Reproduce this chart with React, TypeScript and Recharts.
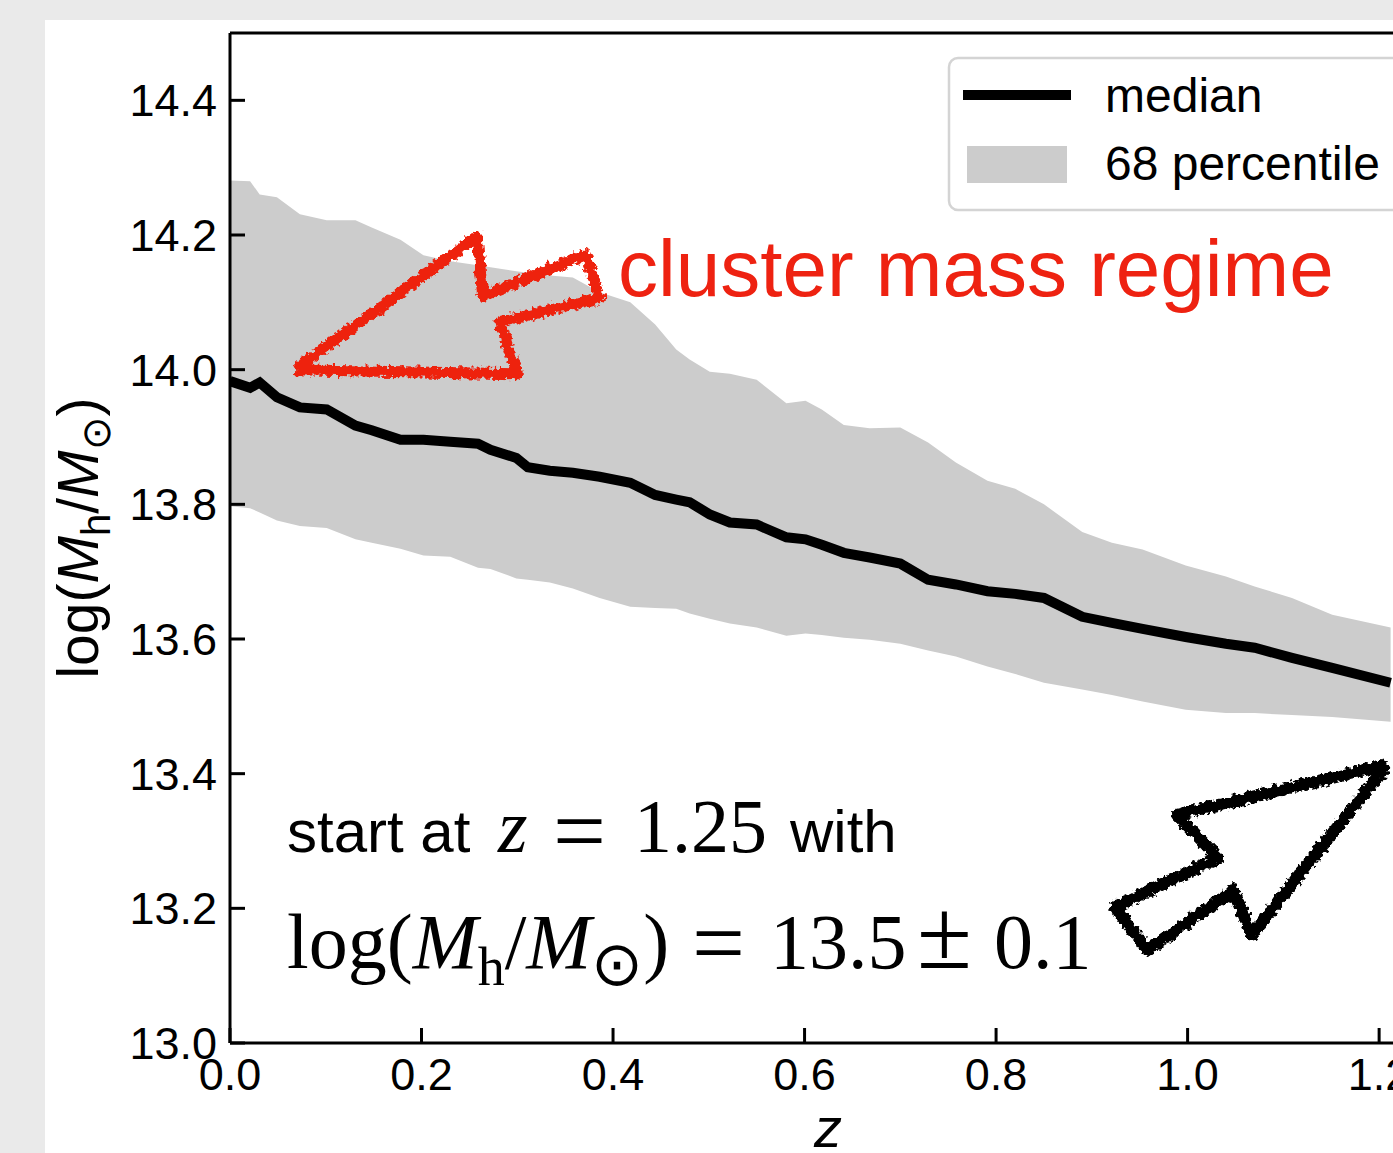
import React from 'react';
import { Area, ComposedChart, Line, XAxis, YAxis } from 'recharts';

// redshift grid and halo mass percentiles
const Z = [
  0, 0.021, 0.031, 0.049, 0.073, 0.101, 0.131, 0.148, 0.178, 0.202, 0.23, 0.259, 0.272, 0.299, 0.311,
  0.334, 0.358, 0.386, 0.418, 0.444, 0.466, 0.48, 0.501, 0.522, 0.55, 0.581, 0.601, 0.618, 0.641, 0.668,
  0.7, 0.729, 0.758, 0.791, 0.82, 0.85, 0.89, 0.921, 0.953, 0.998, 1.04, 1.07, 1.109, 1.151, 1.212,
];
const MEDIAN = [
  13.983, 13.973, 13.981, 13.959, 13.944, 13.941, 13.917, 13.91, 13.896, 13.896, 13.893, 13.89, 13.881,
  13.869, 13.855, 13.85, 13.847, 13.841, 13.832, 13.814, 13.807, 13.803, 13.785, 13.773, 13.77, 13.751,
  13.748, 13.74, 13.728, 13.721, 13.712, 13.688, 13.681, 13.671, 13.667, 13.661, 13.633, 13.624, 13.615,
  13.603, 13.593, 13.587, 13.572, 13.557, 13.535,
];
const P84 = [
  14.281, 14.28, 14.26, 14.256, 14.231, 14.222, 14.222, 14.211, 14.193, 14.17, 14.161, 14.155, 14.152,
  14.146, 14.144, 14.14, 14.137, 14.115, 14.1, 14.067, 14.03, 14.015, 13.997, 13.994, 13.985, 13.95,
  13.954, 13.941, 13.918, 13.913, 13.914, 13.892, 13.862, 13.835, 13.823, 13.8, 13.759, 13.743, 13.733,
  13.709, 13.693, 13.678, 13.661, 13.636, 13.617,
];
const P16 = [
  13.797, 13.794, 13.788, 13.776, 13.768, 13.765, 13.748, 13.743, 13.734, 13.724, 13.722, 13.706, 13.704,
  13.69, 13.688, 13.684, 13.675, 13.661, 13.648, 13.646, 13.645, 13.638, 13.63, 13.623, 13.617, 13.605,
  13.608, 13.606, 13.602, 13.599, 13.593, 13.583, 13.574, 13.559, 13.548, 13.535, 13.525, 13.517, 13.507,
  13.495, 13.49, 13.49, 13.487, 13.484, 13.477,
];

const X_TICKS = [0, 0.2, 0.4, 0.6, 0.8, 1.0, 1.2];
const Y_TICKS = [13.0, 13.2, 13.4, 13.6, 13.8, 14.0, 14.2, 14.4];

// hand drawn arrows, outline vertices in data coords (z, log M)
const RED_ARROW = [
  { z: 0.068, m: 14.0 },
  { z: 0.258, m: 14.198 },
  { z: 0.264, m: 14.109 },
  { z: 0.371, m: 14.171 },
  { z: 0.386, m: 14.107 },
  { z: 0.282, m: 14.07 },
  { z: 0.3, m: 13.994 },
  { z: 0.068, m: 14.0 },
];
const BLACK_ARROW = [
  { z: 1.208, m: 13.413 },
  { z: 0.989, m: 13.339 },
  { z: 1.032, m: 13.275 },
  { z: 0.924, m: 13.202 },
  { z: 0.958, m: 13.138 },
  { z: 1.048, m: 13.227 },
  { z: 1.067, m: 13.161 },
  { z: 1.208, m: 13.413 },
];

const rows = Z.map((z, i) => ({ z, median: MEDIAN[i], band: [P16[i], P84[i]] }));

const SANS = '"Liberation Sans", Arial, Helvetica, sans-serif';
const SERIF = '"Liberation Serif", "Times New Roman", serif';
const RED = '#ee2211';

const axisTick = { fill: '#000', fontSize: 45, fontFamily: SANS };
const spine = { stroke: '#000', strokeWidth: 3 };

export default function App() {
  return (
    <div
      style={{
        position: 'fixed',
        left: 0,
        top: 0,
        width: 1393,
        height: 1153,
        overflow: 'hidden',
        background: '#eaeaea',
      }}
    >
      <div style={{ position: 'absolute', left: 45, top: 20, right: 0, bottom: 0, background: '#fff' }} />
      <svg width={0} height={0} style={{ position: 'absolute' }}>
        <defs>
          <filter id="rough" x="-10%" y="-10%" width="120%" height="120%">
            <feTurbulence type="fractalNoise" baseFrequency="0.22" numOctaves={2} seed={4} result="noise" />
            <feDisplacementMap in="SourceGraphic" in2="noise" scale={9} xChannelSelector="R" yChannelSelector="G" />
          </filter>
        </defs>
      </svg>
      <div style={{ position: 'absolute', left: 0, top: 0 }}>
        <ComposedChart
          width={1450}
          height={1153}
          data={rows}
          margin={{ top: 32, right: 23, bottom: 109, left: 229 }}
        >
          <XAxis
            dataKey="z"
            type="number"
            domain={[0, 1.25]}
            ticks={X_TICKS}
            interval={0}
            allowDataOverflow
            height={1}
            tickFormatter={(v: number) => v.toFixed(1)}
            tick={axisTick}
            tickSize={-15}
            tickMargin={30}
            axisLine={spine}
            tickLine={spine}
          />
          <XAxis
            xAxisId="top"
            orientation="top"
            dataKey="z"
            type="number"
            domain={[0, 1.25]}
            ticks={X_TICKS}
            interval={0}
            allowDataOverflow
            height={1}
            tick={false}
            tickSize={-15}
            axisLine={spine}
            tickLine={spine}
          />
          <YAxis
            type="number"
            domain={[13.0, 14.5]}
            ticks={Y_TICKS}
            interval={0}
            allowDataOverflow
            width={1}
            tickFormatter={(v: number) => v.toFixed(1)}
            tick={axisTick}
            tickSize={-15}
            tickMargin={28}
            axisLine={spine}
            tickLine={spine}
          />
          <Area
            dataKey="band"
            type="linear"
            fill="#cccccc"
            fillOpacity={1}
            stroke="none"
            isAnimationActive={false}
          />
          <Line
            data={RED_ARROW}
            dataKey="m"
            type="linear"
            stroke={RED}
            strokeWidth={11}
            strokeLinejoin="round"
            dot={false}
            activeDot={false}
            filter="url(#rough)"
            isAnimationActive={false}
          />
          <Line
            data={BLACK_ARROW}
            dataKey="m"
            type="linear"
            stroke="#000"
            strokeWidth={12}
            strokeLinejoin="round"
            dot={false}
            activeDot={false}
            filter="url(#rough)"
            isAnimationActive={false}
          />
          <Line
            dataKey="median"
            type="linear"
            stroke="#000"
            strokeWidth={10}
            dot={false}
            activeDot={false}
            isAnimationActive={false}
          />
        </ComposedChart>
      </div>
      <svg
        width={1393}
        height={1153}
        style={{ position: 'absolute', left: 0, top: 0, pointerEvents: 'none' }}
      >
        {/* axis labels */}
        <text transform="rotate(-90)" x={-538} y={98} textAnchor="middle" fontFamily={SANS} fontSize={57}>
          log(<tspan fontStyle="italic">M</tspan>
          <tspan fontSize={40} dy={12}>h</tspan>
          <tspan dy={-12}>/</tspan>
          <tspan fontStyle="italic">M</tspan>
          <tspan fontSize={40} dy={12}>⊙</tspan>
          <tspan dy={-12}>)</tspan>
        </text>
        <text x={828} y={1147} textAnchor="middle" fontFamily={SANS} fontSize={56} fontStyle="italic">
          z
        </text>

        {/* legend */}
        <rect x={949} y={58} width={480} height={152} rx={9} fill="#fff" fillOpacity={0.8} stroke="#d4d4d4" strokeWidth={2.5} />
        <line x1={963} x2={1071} y1={95} y2={95} stroke="#000" strokeWidth={10} />
        <rect x={967} y={146} width={100} height={37} fill="#cccccc" />
        <text x={1105} y={112} fontFamily={SANS} fontSize={48}>median</text>
        <text x={1105} y={180} fontFamily={SANS} fontSize={48}>68 percentile</text>

        {/* annotations */}
        <text x={618} y={296} fontFamily={SANS} fontSize={80} fill={RED}>cluster mass regime</text>
        <text y={852} fontFamily={SANS} fontSize={60}>
          <tspan x={287}>start at</tspan>
          <tspan x={498} fontFamily={SERIF} fontStyle="italic" fontSize={76}>z</tspan>
          <tspan x={553} dy={10} fontFamily={SERIF} fontSize={94}>=</tspan>
          <tspan x={634} dy={-10} fontFamily={SERIF} fontSize={76}>1.25</tspan>
          <tspan x={790}>with</tspan>
        </text>
        <text y={968} fontFamily={SERIF} fontSize={78}>
          <tspan x={287}>log(</tspan>
          <tspan fontStyle="italic">M</tspan>
          <tspan fontSize={54} dy={17}>h</tspan>
          <tspan dy={-17}>/</tspan>
          <tspan fontStyle="italic">M</tspan>
          <tspan fontSize={62} dy={17}>⊙</tspan>
          <tspan dy={-17}>)</tspan>
          <tspan x={692} dy={6} fontSize={94}>=</tspan>
          <tspan x={770} dy={-6}>13.5</tspan>
          <tspan x={917} fontSize={100}>±</tspan>
          <tspan x={994}>0.1</tspan>
        </text>
      </svg>
    </div>
  );
}
